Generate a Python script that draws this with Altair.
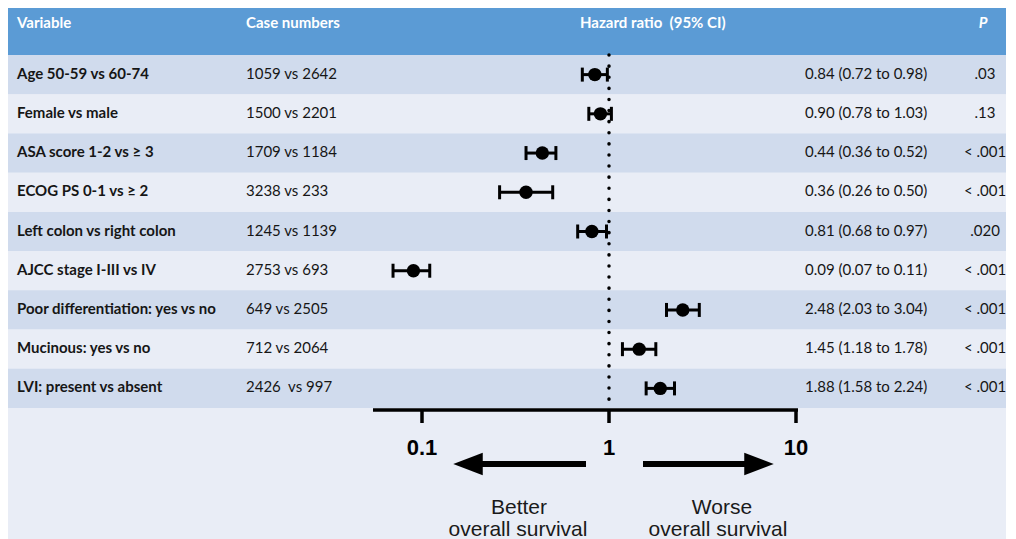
import altair as alt
import pandas as pd

# ---------------- data ----------------
variables = [
    "Age 50-59 vs 60-74",
    "Female vs male",
    "ASA score 1-2 vs ≥ 3",
    "ECOG PS 0-1 vs ≥ 2",
    "Left colon vs right colon",
    "AJCC stage I-III vs IV",
    "Poor differentiation: yes vs no",
    "Mucinous: yes vs no",
    "LVI: present vs absent",
]
case_numbers = [
    "1059 vs 2642", "1500 vs 2201", "1709 vs 1184", "3238 vs 233",
    "1245 vs 1139", "2753 vs 693", "649 vs 2505", "712 vs 2064",
    "2426\u00a0 vs 997",
]
hr = [0.84, 0.90, 0.44, 0.36, 0.81, 0.09, 2.48, 1.45, 1.88]
ci_low = [0.72, 0.78, 0.36, 0.26, 0.68, 0.07, 2.03, 1.18, 1.58]
ci_high = [0.98, 1.03, 0.52, 0.50, 0.97, 0.11, 3.04, 1.78, 2.24]
p_values = [".03", ".13", "< .001", "< .001", ".020", "< .001", "< .001", "< .001", "< .001"]
tick_values = [0.1, 1, 10]
tick_labels = ["0.1", "1", "10"]

df = pd.DataFrame({
    "row": list(range(1, len(variables) + 1)),
    "variable": variables,
    "cases": case_numbers,
    "hr": hr,
    "lo": ci_low,
    "hi": ci_high,
    "p": p_values,
})
df["hr_text"] = [f"{h:.2f} ({l:.2f} to {u:.2f})" for h, l, u in zip(hr, ci_low, ci_high)]
ticks_df = pd.DataFrame({"v": tick_values, "label": tick_labels})
one = pd.DataFrame({"k": [0]})

# ---------------- layout ----------------
W, H = 998, 531
HEADER_H = 47
AXIS_Y = 402
xscale = alt.Scale(type="log", domain=[0.1, 10], range=[414, 788])
yscale = alt.Scale(domain=[0.5, 9.5], range=[HEADER_H, 400])

TABLE_FONT = "Lato"
FS = 15
ARIAL = "Liberation Sans"
TXT = "#161616"

base = alt.Chart(df)
Y = alt.Y("row:Q", scale=yscale, axis=None)

bands = base.mark_rect().transform_calculate(
    y0="datum.row - 0.5", y1="datum.row + 0.5",
    band="datum.row % 2 == 1 ? 'dark' : 'light'",
).encode(
    x=alt.value(0), x2=alt.value(W),
    y=alt.Y("y0:Q", scale=yscale, axis=None), y2="y1:Q",
    color=alt.Color("band:N", scale=alt.Scale(domain=["dark", "light"],
                                              range=["#D0DBED", "#E9EDF6"]), legend=None),
)

header = alt.Chart(one).mark_rect(color="#5B9BD5").encode(
    x=alt.value(0), x2=alt.value(W), y=alt.value(0), y2=alt.value(HEADER_H)
)

def htext(label, x, align="left", style="normal"):
    return alt.Chart(one).mark_text(
        text=label, font=TABLE_FONT, fontSize=FS, fontWeight="bold", fontStyle=style,
        color="white", align=align, baseline="middle"
    ).encode(x=alt.value(x), y=alt.value(15))

header_texts = [
    htext("Variable", 9),
    htext("Case numbers", 238),
    htext("Hazard ratio\u00a0 (95% CI)", 572),
    htext("P", 975, align="center", style="italic"),
]

refline = alt.Chart(one).mark_rule(
    strokeDash=[0.1, 11], strokeCap="round", strokeWidth=3.5, color="black"
).encode(
    x=alt.X(datum=1, type="quantitative", scale=xscale, axis=None),
    y=alt.value(HEADER_H), y2=alt.value(AXIS_Y),
)

ci = base.mark_rule(strokeWidth=3, color="black").encode(
    x=alt.X("lo:Q", scale=xscale, axis=None), x2="hi:Q", y=Y
)
caps = base.transform_fold(["lo", "hi"], as_=["end", "value"]).mark_tick(
    orient="vertical", size=14, thickness=3, color="black", opacity=1
).encode(x=alt.X("value:Q", scale=xscale, axis=None), y=Y)
dots = base.mark_circle(size=180, color="black", opacity=1).encode(
    x=alt.X("hr:Q", scale=xscale, axis=None), y=Y
)

var_text = base.mark_text(font=TABLE_FONT, fontSize=FS, fontWeight="bold", color=TXT,
                          align="left", baseline="middle", dy=-1).encode(
    x=alt.value(9), y=Y, text="variable:N")
case_text = base.mark_text(font=TABLE_FONT, fontSize=FS, color=TXT,
                           align="left", baseline="middle", dy=-1).encode(
    x=alt.value(238), y=Y, text="cases:N")
hr_text = base.mark_text(font=TABLE_FONT, fontSize=FS, color=TXT,
                         align="left", baseline="middle", dy=-1).encode(
    x=alt.value(797), y=Y, text="hr_text:N")
p_text = base.mark_text(font=TABLE_FONT, fontSize=FS, color=TXT,
                        align="center", baseline="middle", dy=-1).encode(
    x=alt.value(977), y=Y, text="p:N")

axis_line = alt.Chart(one).mark_rule(strokeWidth=3.5, color="black").encode(
    x=alt.value(365), x2=alt.value(790), y=alt.value(AXIS_Y)
)
axis_ticks = alt.Chart(ticks_df).mark_rule(strokeWidth=3.5, color="black").encode(
    x=alt.X("v:Q", scale=xscale, axis=None), y=alt.value(AXIS_Y), y2=alt.value(415)
)
axis_labels = alt.Chart(ticks_df).mark_text(
    font=ARIAL, fontSize=22, fontWeight="bold", color="black",
    align="center", baseline="alphabetic"
).encode(x=alt.X("v:Q", scale=xscale, axis=None), y=alt.value(447), text="label:N")

ARROW_Y = 456
left_shaft = alt.Chart(one).mark_rule(strokeWidth=6, color="black").encode(
    x=alt.value(466), x2=alt.value(578), y=alt.value(ARROW_Y))
right_shaft = alt.Chart(one).mark_rule(strokeWidth=6, color="black").encode(
    x=alt.value(635), x2=alt.value(746), y=alt.value(ARROW_Y))
left_head = alt.Chart(one).mark_point(
    shape="M -1 0 L 1 -0.76 L 1 0.76 Z", size=870, filled=True, color="black", opacity=1
).encode(x=alt.value(460), y=alt.value(ARROW_Y))
right_head = alt.Chart(one).mark_point(
    shape="M 1 0 L -1 -0.76 L -1 0.76 Z", size=870, filled=True, color="black", opacity=1
).encode(x=alt.value(751), y=alt.value(ARROW_Y))

def btext(label, x, y):
    return alt.Chart(one).mark_text(
        text=label, font=ARIAL, fontSize=21, color="#1a1a1a",
        align="center", baseline="alphabetic"
    ).encode(x=alt.value(x), y=alt.value(y))

bottom_texts = [
    btext("Better", 511, 506),
    btext("overall survival", 510, 528),
    btext("Worse", 714, 506),
    btext("overall survival", 710, 528),
]

chart = alt.layer(
    bands, header, *header_texts, refline, ci, caps, dots,
    var_text, case_text, hr_text, p_text,
    axis_line, axis_ticks, axis_labels,
    left_shaft, right_shaft, left_head, right_head, *bottom_texts,
).properties(
    width=W, height=H, padding=0, autosize=alt.AutoSizeParams(type="none"),
    background="#E9EDF6",
).configure_view(stroke=None)

chart.save("out.html", embed_options={"renderer": "svg", "actions": False})
